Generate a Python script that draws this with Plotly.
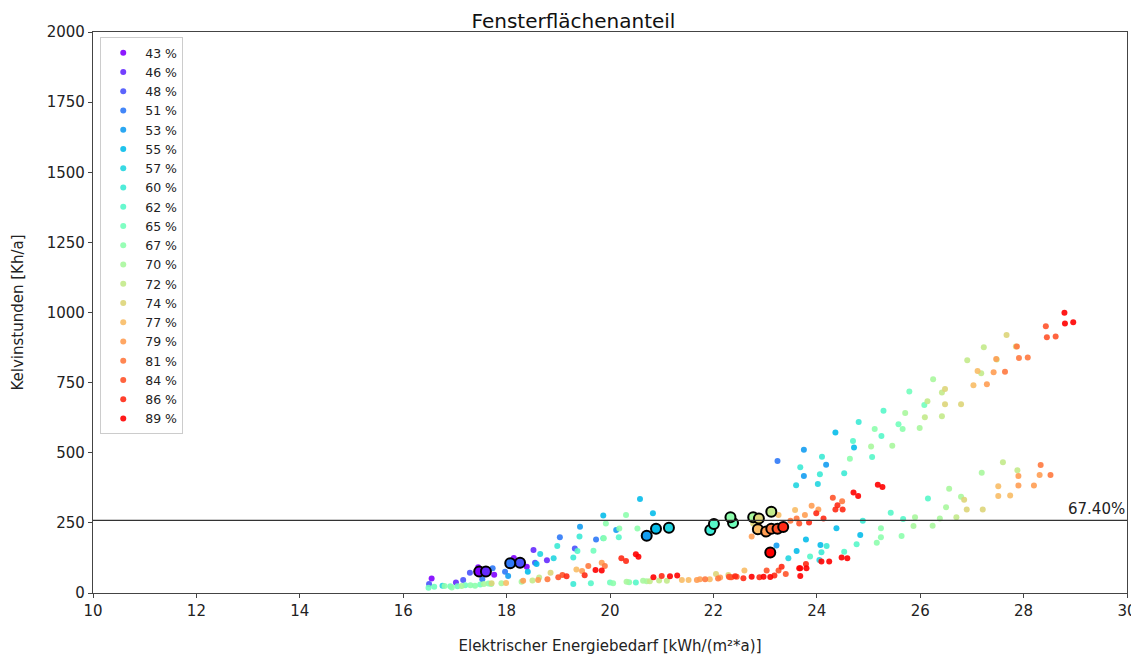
import numpy as np
import plotly.graph_objects as go

# Fensterflächenanteil in %
shares = [43, 46, 48, 51, 53, 55, 57, 60, 62, 65, 67, 70, 72, 74, 77, 79, 81, 84, 86, 89]

# Elektrischer Energiebedarf (x) und Kelvinstunden (y) je Fensterflächenanteil
x43 = [16.55, 17.45, 17.76, 18.14, 18.39]
y43 = [52, 92, 65, 125, 94]
x46 = [17.02, 17.58, 18.52, 18.78]
y46 = [37, 82, 153, 117]
x48 = [16.50, 17.16, 17.29, 18.55, 19.32]
y48 = [32, 46, 72, 108, 159]
x51 = [17.53, 17.73, 17.97, 19.03, 19.73, 23.24]
y51 = [49, 88, 76, 199, 191, 471]
x53 = [18.03, 19.42, 20.12, 23.22, 23.75, 23.75, 24.18]
y53 = [61, 236, 225, 169, 511, 417, 457]
x55 = [18.41, 18.58, 19.87, 20.58, 20.83, 23.61, 23.79, 24.07, 24.36, 24.38, 24.72, 24.84]
y55 = [76, 103, 276, 335, 284, 150, 191, 171, 572, 231, 519, 207]
x57 = [16.76, 18.65, 18.91, 23.45, 23.60, 24.02, 24.05]
y57 = [26, 139, 124, 124, 384, 389, 118]
x60 = [18.98, 19.29, 19.29, 19.41, 19.87, 23.68, 24.06, 24.09, 24.10, 24.19, 24.53, 24.81, 24.89]
y60 = [168, 127, 32, 201, 195, 448, 423, 145, 486, 168, 427, 610, 258]
x62 = [19.37, 19.63, 20.17, 20.50, 23.87, 24.53, 24.70, 24.77, 25.07, 25.25, 25.29, 25.43, 25.67, 26.15]
y62 = [150, 35, 199, 37, 130, 147, 542, 174, 485, 560, 650, 286, 264, 337]
x65 = [16.49, 16.60, 16.91, 17.05, 17.20, 17.49, 19.68, 20.00, 25.58, 25.79, 26.08]
y65 = [19, 22, 24, 24, 28, 30, 151, 37, 602, 718, 670]
x67 = [16.80, 16.94, 17.30, 17.39, 17.65, 17.70, 19.88, 19.92, 20.06, 20.18, 20.31, 20.37, 20.53,
       24.64, 25.12, 25.16, 25.24, 25.24, 25.64, 25.66]
y67 = [25, 20, 28, 26, 34, 32, 195, 248, 35, 230, 278, 38, 230, 479, 585, 179, 231, 199, 203, 585]
x70 = [17.13, 17.56, 17.90, 18.29, 20.32, 20.64, 20.71, 25.05, 25.46, 25.71, 25.87, 25.90, 25.99, 26.24,
       26.25, 26.38, 26.50, 26.56, 26.79, 27.19]
y70 = [25, 32, 35, 40, 40, 44, 42, 522, 525, 642, 239, 270, 588, 240, 762, 266, 306, 372, 343, 429]
x72 = [18.50, 18.63, 20.77, 20.95, 21.10, 26.09, 26.14, 26.42, 26.42, 26.70, 26.91, 27.18, 27.23, 27.48,
       27.60, 27.88]
y72 = [45, 55, 42, 45, 44, 627, 684, 715, 630, 270, 830, 783, 876, 832, 466, 438]
x74 = [17.71, 18.85, 22.05, 22.29, 22.77, 26.48, 26.48, 26.79, 26.85, 26.90, 27.21, 27.67, 27.85]
y74 = [35, 72, 68, 64, 248, 727, 673, 673, 332, 298, 298, 920, 879]
x77 = [17.99, 19.35, 21.39, 21.52, 21.93, 22.60, 23.26, 23.58, 27.03, 27.11, 27.51, 27.51, 27.74]
y77 = [36, 84, 46, 46, 49, 80, 278, 296, 741, 791, 381, 346, 348]
x79 = [18.32, 18.61, 19.46, 19.84, 21.68, 21.74, 22.13, 22.74, 23.77, 23.90, 24.03, 27.29, 27.42, 27.47,
       27.90, 28.20, 27.90, 28.31]
y79 = [44, 46, 78, 108, 46, 49, 55, 201, 278, 311, 298, 744, 787, 834, 383, 383, 417, 421]
x81 = [18.79, 19.58, 19.90, 21.84, 22.09, 22.32, 23.49, 23.61, 24.49, 27.64, 27.87, 27.91, 28.08, 28.33,
       28.52]
y81 = [49, 96, 96, 49, 52, 56, 258, 266, 327, 789, 879, 838, 840, 456, 421]
x84 = [19.00, 19.08, 22.30, 22.35, 22.45, 23.03, 23.26, 23.40, 23.66, 24.31, 28.43, 28.45, 28.62]
y84 = [56, 64, 58, 56, 58, 80, 80, 68, 248, 340, 951, 912, 914]
x86 = [19.16, 19.51, 20.22, 20.31, 21.00, 22.42, 22.58, 22.89, 23.18, 23.32, 23.79, 23.85, 23.99, 24.13,
       24.36, 24.40, 24.50]
y86 = [60, 63, 124, 114, 61, 60, 53, 56, 62, 94, 103, 251, 284, 266, 298, 313, 298]
x89 = [19.72, 19.84, 20.50, 20.55, 20.84, 21.16, 21.30, 22.74, 22.97, 23.10, 23.66, 23.68, 23.68, 23.80,
       24.09, 24.24, 24.48, 24.59, 24.71, 24.80, 25.18, 25.27, 28.79, 28.80, 28.96]
y89 = [82, 80, 138, 129, 56, 60, 62, 58, 58, 57, 88, 61, 88, 88, 112, 112, 127, 124, 358, 346, 386, 378,
       999, 961, 965]

# hervorgehobene Punkte, einer je Fensterflächenanteil (gleiche Reihenfolge wie shares)
bestX = [17.47, 17.60, 18.26, 18.07, 20.71, 20.89, 21.14, 21.94, 22.01, 22.38,
         22.33, 22.77, 23.12, 22.88, 22.86, 23.02, 23.12, 23.24, 23.35, 23.10]
bestY = [77, 77, 108, 106, 204, 229, 233, 225, 246, 250,
         270, 270, 290, 266, 227, 219, 229, 229, 235, 144]

limitY = 259
limitLabel = "67.40%"

allX = [x43, x46, x48, x51, x53, x55, x57, x60, x62, x65, x67, x70, x72, x74, x77, x79, x81, x84, x86, x89]
allY = [y43, y46, y48, y51, y53, y55, y57, y60, y62, y65, y67, y70, y72, y74, y77, y79, y81, y84, y86, y89]


def rainbow(v):
    # matplotlib "rainbow" colormap
    r = min(1, abs(2 * v - 0.5))
    g = max(0, np.sin(v * np.pi))
    b = max(0, np.cos(v * np.pi / 2))
    return "rgb(%d,%d,%d)" % (round(r * 255), round(g * 255), round(b * 255))


colors = [rainbow(v) for v in np.linspace(0, 1, len(shares))]
fontName = "DejaVu Sans"

fig = go.Figure()
for s, xs, ys, c in zip(shares, allX, allY, colors):
    fig.add_trace(go.Scatter(x=xs, y=ys, mode="markers", name="%d %%" % s,
                             marker=dict(color=c, size=6, opacity=0.9, line=dict(width=0))))

fig.add_trace(go.Scatter(x=bestX, y=bestY, mode="markers", showlegend=False,
                         marker=dict(color=colors, size=10, line=dict(color="black", width=2))))

fig.add_shape(type="line", xref="paper", x0=0, x1=1, yref="y", y0=limitY, y1=limitY,
              line=dict(color="#333333", width=1.3))
fig.add_annotation(xref="paper", x=1, yref="y", y=limitY, text=limitLabel, showarrow=False,
                   xanchor="right", yanchor="bottom", font=dict(size=15, color="#222222"))

# page is drawn with an 8px body offset, margins compensate for that
fig.update_layout(
    width=1139, height=660,
    margin=dict(l=85, r=20, t=24, b=75),
    paper_bgcolor="white", plot_bgcolor="white",
    font=dict(family=fontName, size=15, color="#222222"),
    title=dict(text="Fensterflächenanteil", x=0.5 - 4 / 1139, xanchor="center", y=0.981, yanchor="middle",
               font=dict(size=20, color="#111111")),
    legend=dict(x=0.007, y=0.991, xanchor="left", yanchor="top", bgcolor="rgba(255,255,255,0.8)",
                bordercolor="#cccccc", borderwidth=1, font=dict(size=12.5), tracegroupgap=0,
                itemsizing="trace", itemwidth=34),
    showlegend=True,
)
fig.update_xaxes(range=[10, 30], tick0=10, dtick=2, showgrid=False, zeroline=False, automargin=False,
                 showline=True, linecolor="#444444", linewidth=1.3, mirror=True,
                 ticks="outside", ticklen=4, tickcolor="#444444",
                 title=dict(text="Elektrischer Energiebedarf [kWh/(m²*a)]", standoff=21, font=dict(size=15)))
fig.update_yaxes(range=[0, 2000], tick0=0, dtick=250, showgrid=False, zeroline=False, automargin=False,
                 showline=True, linecolor="#444444", linewidth=1.3, mirror=True,
                 ticks="outside", ticklen=4, tickcolor="#444444",
                 title=dict(text="Kelvinstunden [Kh/a]", standoff=19, font=dict(size=15)))

fig.write_html("out.html")
